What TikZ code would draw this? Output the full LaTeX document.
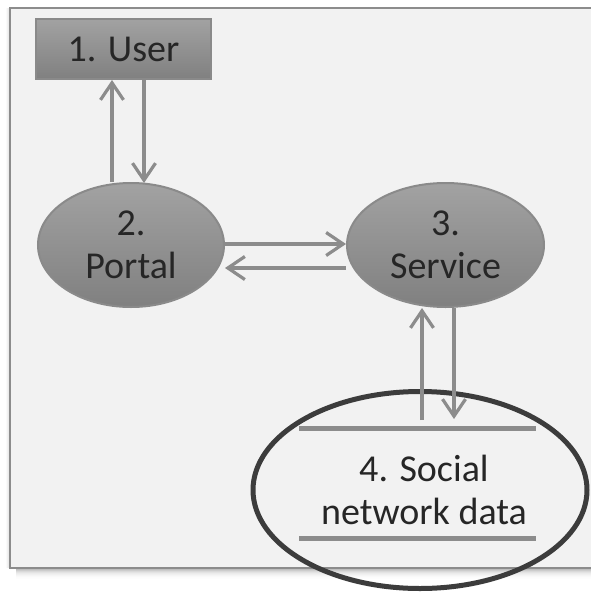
\documentclass[tikz,border=0pt]{standalone}
\usepackage{fontspec}
\setmainfont{Carlito}
\usetikzlibrary{arrows.meta,shapes.geometric}
\definecolor{bgfill}{HTML}{F2F2F2}
\definecolor{frameline}{HTML}{8C8C8C}
\definecolor{arrowgray}{HTML}{8C8C8C}
\definecolor{shapetop}{HTML}{A2A2A2}
\definecolor{shapebot}{HTML}{808080}
\definecolor{shapeline}{HTML}{8A8A8A}
\definecolor{txt}{HTML}{262626}
\definecolor{ringcol}{HTML}{3C3C3C}
\tikzset{
  procnode/.style={ellipse, draw=shapeline, line width=2pt, top color=shapetop, bottom color=shapebot,
    minimum width=186pt, minimum height=124pt, inner sep=0pt, text=txt, align=center,
    font=\fontsize{38}{43}\selectfont},
  usernode/.style={rectangle, draw=shapeline, line width=2pt, top color=shapetop, bottom color=shapebot,
    minimum width=175pt, minimum height=60pt, inner sep=0pt, text=txt, font=\fontsize{38}{43}\selectfont},
  flow/.style={draw=arrowgray, line width=3.2pt, -{Straight Barb[length=17pt,width=23pt,line width=3.2pt]}},
  storeline/.style={draw=arrowgray, line width=5pt},
  storetext/.style={text=txt, align=center, font=\fontsize{38}{43}\selectfont, inner sep=0pt},
}
\begin{document}
\begin{tikzpicture}[x=1pt,y=-1pt]
\useasboundingbox (0,0) rectangle (590,592);
\fill[white] (0,0) rectangle (590,592);
% shadow
\foreach \i/\o in {1/0.30,2/0.25,3/0.20,4/0.15,5/0.11,6/0.08,7/0.06,8/0.04,9/0.025,10/0.012,11/0.006}{
  \fill[black,opacity=\o] (16,568+\i-1) rectangle (600,568+\i);
}
\foreach \i/\o in {1/0.12,2/0.08,3/0.05,4/0.02}{
  \fill[black,opacity=\o] (10-\i,8) rectangle (10-\i+1,568);
}
% frame
\draw[fill=bgfill, draw=frameline, line width=2.5pt] (10,8) rectangle (610,568);
% nodes
\node[usernode] (user) at (123.5,49) {1. User};
\node[procnode] (portal) at (131,245) {2.\\Portal};
\node[procnode, minimum width=197pt] (service) at (445.5,245) {3.\\Service};
\node[storetext] (data) at (424,490) {4. Social\\network data};
\coordinate (stTL) at (299,428);
\coordinate (stTR) at (536,428);
\coordinate (stBL) at (299,538);
\coordinate (stBR) at (536,538);
\draw[storeline] (stTL) -- (stTR);
\draw[storeline] (stBL) -- (stBR);
% highlight ring
\node[ellipse, draw=ringcol, line width=5pt, minimum width=334pt, minimum height=197pt, inner sep=0pt] (ring) at (420,490) {};
% connectors
\draw[flow] (portal.north -| 112,0) -- (user.south -| 112,0);
\draw[flow] (user.south -| 144,0) -- ([yshift=-1pt]portal.north -| 144,0);
\draw[flow] (portal.east |- 0,244) -- (service.west |- 0,244);
\draw[flow] (service.west |- 0,268) -- (portal.east |- 0,268);
\coordinate (upstart) at (422,420);
\coordinate (downend) at (454,419);
\draw[flow] (upstart) -- (service.south -| 422,0);
\draw[flow] (service.south -| 454,0) -- (downend);
\end{tikzpicture}
\end{document}
